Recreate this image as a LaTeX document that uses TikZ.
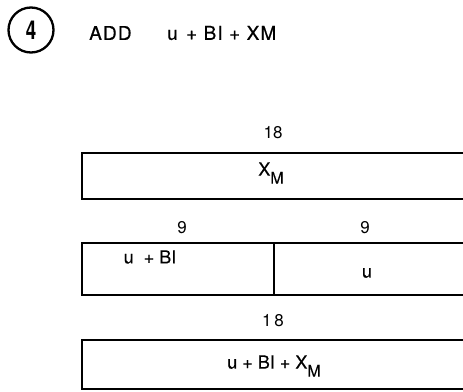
\documentclass[tikz,border=0pt]{standalone}
\usepackage{fontspec}
\setmainfont{TeX Gyre Heros}
\newfontfamily\headfont[FakeBold=0.6, LetterSpace=6]{TeX Gyre Heros}
\newfontfamily\cellfont[FakeBold=0.3]{TeX Gyre Heros}
\newcommand{\subM}{\raisebox{-8pt}{\fontsize{16}{18}\selectfont M}}
\begin{document}
\begin{tikzpicture}[x=1pt,y=-1pt,
  wordbox/.style={line width=2.5pt},
  lbl/.style={font=\fontsize{17}{19}\selectfont, inner sep=0pt},
  head/.style={font=\headfont\fontsize{19}{21}\selectfont, inner sep=0pt},
  cell/.style={font=\cellfont\fontsize{18}{20}\selectfont, inner sep=0pt}]
  \useasboundingbox (0,0) rectangle (463,391);
  \clip (0,0) rectangle (463,391);

  % step number and operation heading
  \node[circle, draw, line width=2.3pt, minimum size=45pt, inner sep=0pt,
        font=\fontsize{26}{28}\bfseries] (num) at (31,30) {\scalebox{0.72}[1]{4}};
  \node[head, anchor=west] (op) at (89,33) {ADD};
  \node[head, anchor=west] (expr) at (167,33) {u\hspace{0.1em} + BI + XM};

  % 18-bit word holding X_M
  \draw[wordbox] (470,153) -- (82,153) -- (82,199) -- (470,199);
  \node[lbl] (w1) at (273,133) {18};
  \node[cell] (xm) at (271,173) {X\subM};

  % two 9-bit halves
  \draw[wordbox] (470,243) -- (82,243) -- (82,295) -- (470,295);
  \draw[line width=1.4pt] (274,243) -- (274,295);
  \node[lbl] (h1) at (182,228) {9};
  \node[lbl] (h2) at (365,228) {9};
  \node[cell] (ubi) at (150,257) {u\ \ + BI};
  \node[cell] (u) at (367,273) {u};

  % 18-bit sum
  \draw[wordbox] (470,340) -- (82,340) -- (82,389) -- (470,389);
  \node[lbl] (w3) at (273,321) {1\,8};
  \node[cell] (sum) at (274,366) {u + BI + X\subM};
\end{tikzpicture}
\end{document}
